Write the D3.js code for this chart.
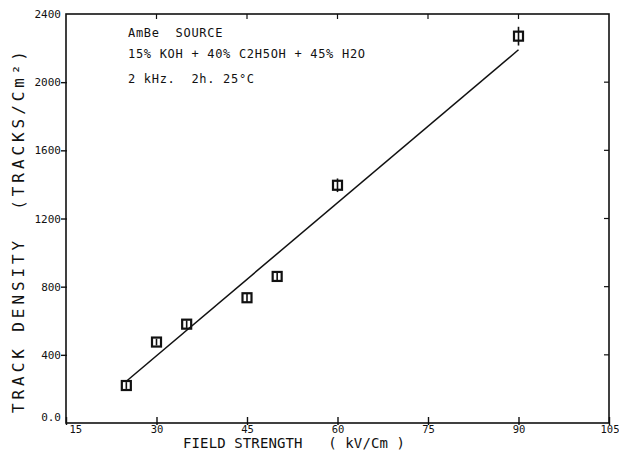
<!DOCTYPE html>
<html>
<head>
<meta charset="utf-8">
<script src="https://cdn.jsdelivr.net/npm/d3@7"></script>
<style>
  body { margin: 0; background: #fff; }
  svg { display: block; }
  text { fill: #111; white-space: pre; }
</style>
</head>
<body>
<div id="chartSection"></div>
<script>
// values
var fieldStrength = [25, 30, 35, 45, 50, 60, 90];
var trackDensity = [220, 475, 580, 735, 860, 1395, 2270];
var densityError = [20, 20, 22, 25, 25, 40, 55];
var fitX = [25, 90];
var fitY = [245, 2190];
var xTicks = [15, 30, 45, 60, 75, 90, 105];
var yTicks = [0, 400, 800, 1200, 1600, 2000, 2400];
var yTickLabels = ["0.0", "400", "800", "1200", "1600", "2000", "2400"];
var notes = ["AmBe  SOURCE", "15% KOH + 40% C2H5OH + 45% H2O", "2 kHz.  2h. 25°C"];
var noteBaselines = [37, 58, 83];

var width = 619, height = 453;
var svg = d3.select("#chartSection").append("svg")
    .attr("width", width)
    .attr("height", height);

var x = d3.scaleLinear().domain([15, 105]).range([66, 609]);
var y = d3.scaleLinear().domain([0, 2400]).range([423, 14]);

var mono = "'DejaVu Sans Mono', monospace";

// frame
svg.append("rect")
    .attr("x", x(15)).attr("y", y(2400))
    .attr("width", x(105) - x(15)).attr("height", y(0) - y(2400))
    .attr("fill", "none").attr("stroke", "#111").attr("stroke-width", 1.6);

// bottom axis
var xAxis = d3.axisBottom(x).tickValues(xTicks).tickSize(0).tickFormat(d3.format("d"));
var gx = svg.append("g").attr("transform", "translate(0," + y(0) + ")").call(xAxis);
gx.select(".domain").remove();
gx.selectAll(".tick line").remove();
gx.selectAll(".tick").append("line")
    .attr("y1", -6).attr("y2", 2).attr("stroke", "#111").attr("stroke-width", 1.4);
gx.selectAll(".tick text")
    .attr("y", 3).attr("dy", "0.71em")
    .style("font-family", mono).style("font-size", "10.5px")
    .attr("text-anchor", function(d) { return d === 15 ? "start" : (d === 105 ? "end" : "middle"); })
    .attr("dx", function(d) { return d === 15 ? 3 : (d === 105 ? 10 : 0); });

// left axis
var yAxis = d3.axisLeft(y).tickValues(yTicks).tickSize(0)
    .tickFormat(function(d, i) { return yTickLabels[i]; });
var gy = svg.append("g").attr("transform", "translate(" + x(15) + ",0)").call(yAxis);
gy.select(".domain").remove();
gy.selectAll(".tick line").remove();
gy.selectAll(".tick").filter(function(d) { return d > 0 && d < 2400; }).append("line")
    .attr("x1", -5).attr("x2", 1).attr("stroke", "#111").attr("stroke-width", 1.4);
gy.selectAll(".tick text")
    .attr("x", -5)
    .attr("dy", function(d) { return d === 0 ? "-0.25em" : "0.32em"; })
    .style("font-family", mono).style("font-size", "11px");

// top and right inner ticks
svg.append("g").selectAll("line")
    .data(xTicks.slice(1, -1))
    .enter().append("line")
    .attr("x1", d => x(d)).attr("x2", d => x(d))
    .attr("y1", y(2400)).attr("y2", y(2400) + 5)
    .attr("stroke", "#111").attr("stroke-width", 1.2);
svg.append("g").selectAll("line")
    .data(yTicks.slice(1, -1))
    .enter().append("line")
    .attr("x1", x(105) - 5).attr("x2", x(105))
    .attr("y1", d => y(d)).attr("y2", d => y(d))
    .attr("stroke", "#111").attr("stroke-width", 1.2);

// fitted line
var line = d3.line().x(d => x(d[0])).y(d => y(d[1]));
svg.append("path")
    .datum(fitX.map(function(v, i) { return [v, fitY[i]]; }))
    .attr("d", line)
    .attr("fill", "none").attr("stroke", "#111").attr("stroke-width", 1.5);

// data points with error bars
var pts = fieldStrength.map(function(v, i) {
    return { x: v, y: trackDensity[i], e: densityError[i] };
});
var p = svg.append("g").selectAll("g").data(pts).enter().append("g");
p.append("line")
    .attr("x1", d => x(d.x)).attr("x2", d => x(d.x))
    .attr("y1", d => y(d.y + d.e)).attr("y2", d => y(d.y - d.e))
    .attr("stroke", "#111").attr("stroke-width", 1.6);
p.append("rect")
    .attr("x", d => x(d.x) - 4.5).attr("y", d => y(d.y) - 4.5)
    .attr("width", 9).attr("height", 9)
    .attr("fill", "none").attr("stroke", "#111").attr("stroke-width", 2.2);

// annotation
svg.append("g").selectAll("text")
    .data(notes)
    .enter().append("text")
    .attr("x", 128)
    .attr("y", (d, i) => noteBaselines[i])
    .attr("xml:space", "preserve")
    .style("font-family", mono).style("font-size", "12px")
    .style("letter-spacing", "0.7px")
    .text(d => d);

// axis titles
svg.append("text")
    .attr("x", 183).attr("y", 448)
    .attr("xml:space", "preserve")
    .attr("textLength", 222).attr("lengthAdjust", "spacing")
    .style("font-family", mono).style("font-size", "14px")
    .text("FIELD STRENGTH   ( kV/Cm )");

svg.append("text")
    .attr("transform", "translate(24,413) rotate(-90)")
    .attr("xml:space", "preserve")
    .attr("textLength", 362).attr("lengthAdjust", "spacing")
    .style("font-family", mono).style("font-size", "16px")
    .text("TRACK DENSITY  (TRACKS/Cm²)");
</script>
</body>
</html>
